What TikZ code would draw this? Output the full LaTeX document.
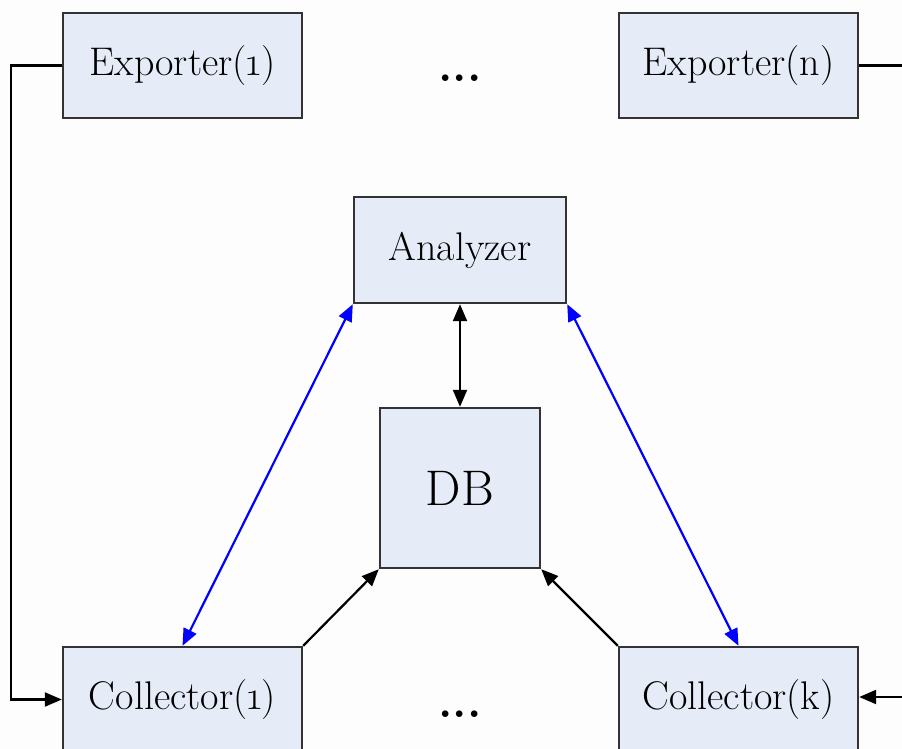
\documentclass[tikz,border=0pt]{standalone}
\usepackage{fontspec}
\setmainfont{Latin Modern Roman}[Numbers=OldStyle]
\usetikzlibrary{arrows.meta}
\definecolor{boxfill}{HTML}{E6ECF7}
\definecolor{boxline}{HTML}{333333}
\definecolor{bg}{HTML}{FDFDFD}
\begin{document}
\begin{tikzpicture}[x=1pt,y=-1pt,
  box/.style={draw=boxline, fill=boxfill, line width=2.4pt, inner sep=0pt,
    font=\fontsize{40}{46}\selectfont},
  wide/.style={box, minimum width=239pt, minimum height=105pt},
  conn/.style={line width=2.2pt, black},
  tip/.style={-{Triangle[length=17pt,width=14pt]}},
  both/.style={{Triangle[length=17pt,width=14pt]}-{Triangle[length=17pt,width=14pt]}},
  dots/.style={font=\fontsize{46}{50}\selectfont\bfseries, anchor=base}
]
\useasboundingbox (0,0) rectangle (902,749);
\fill[bg] (0,0) rectangle (902,749);

\node[wide] (e1) at (182.5,65.5) {Exporter(1)};
\node[wide] (en) at (738.5,65.5) {Exporter(n)};
\node[box, minimum width=212pt, minimum height=106pt] (an) at (460,250) {Analyzer};
\node[box, minimum width=160pt, minimum height=160pt, font=\fontsize{50}{56}\selectfont] (db) at (460,488) {DB};
\node[wide] (c1) at (182.5,699.5) {Collector(1)};
\node[wide] (ck) at (738.5,699.5) {Collector(k)};

\node[dots] (d1) at (460,82) {...};
\node[dots] (d2) at (460,717) {...};

\coordinate (L) at (11,65.5);
\coordinate (R1) at (902,65.5);
\coordinate (R2) at (902,697);

\draw[conn, tip] (e1.west) -- (L) |- (c1.west);
\draw[conn] (en.east) -- (R1);
\draw[conn, tip] (R2) -- (ck.east |- R2);

\draw[conn, both] (an.south) -- (db.north);
\draw[conn, both, blue] (an.south west) -- (c1.north);
\draw[conn, both, blue] (an.south east) -- (ck.north);
\draw[conn, tip] (c1.north east) -- (db.south west);
\draw[conn, tip] (ck.north west) -- (db.south east);
\end{tikzpicture}
\end{document}
